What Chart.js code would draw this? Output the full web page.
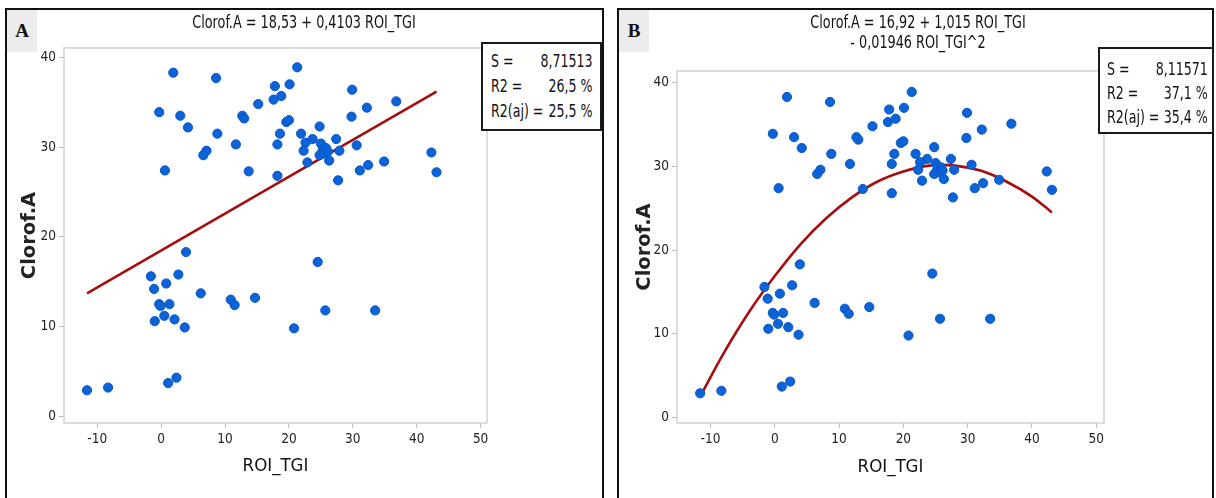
<!DOCTYPE html>
<html>
<head>
<meta charset="utf-8">
<script src="https://cdn.jsdelivr.net/npm/chart.js@4.4.1/dist/chart.umd.min.js"></script>
<style>
  body { margin: 0; width: 1216px; height: 498px; background: #fff; position: relative; overflow: hidden;
         font-family: 'DejaVu Sans Condensed', 'Liberation Sans Narrow', sans-serif; color: #111; }
  .panel { position: absolute; top: 8px; height: 500px; border: 2px solid #111; box-sizing: border-box; }
  #panelA { left: 5px; width: 599px; }
  #panelB { left: 617px; width: 597px; }
  .tag { position: absolute; left: 0; top: 0; width: 30px; height: 42px; background: #ececec;
         font: bold 19px 'Liberation Serif', 'DejaVu Serif', serif; display: flex; align-items: center; justify-content: center; }
  canvas { position: absolute; top: 0; }
  .title { position: absolute; width: 400px; font-size: 18.5px; text-align: center; line-height: 20px; white-space: nowrap;
           transform: scaleX(0.77); transform-origin: center top; z-index: 2; }
  .stats { position: absolute; border: 2px solid #1a1a1a; background: #fff; box-sizing: border-box; z-index: 3; }
  .stats .body { transform: scaleX(0.8); transform-origin: left top; font-size: 17.5px; }
  .stats .body div { display: flex; justify-content: space-between; white-space: nowrap; }
</style>
</head>
<body>
<canvas id="chartA" width="604" height="498" style="left:0"></canvas>
<canvas id="chartB" width="604" height="498" style="left:612px"></canvas>

<div class="panel" id="panelA"><div class="tag">A</div></div>
<div class="panel" id="panelB"><div class="tag">B</div></div>

<div class="title" style="left:104px; top:12px;">Clorof.A = 18,53 + 0,4103 ROI_TGI</div>
<div class="title" style="left:718px; top:12px;">Clorof.A = 16,92 + 1,015 ROI_TGI<br>- 0,01946 ROI_TGI^2</div>

<div class="stats" style="left:481px; top:42px; width:121px; height:89px;">
  <div class="body" style="width:127px; margin:5px 0 0 8px;">
    <div style="height:25px; line-height:25px;"><span>S =</span><span>8,71513</span></div>
    <div style="height:25px; line-height:25px;"><span>R2 =</span><span>26,5 %</span></div>
    <div style="height:25px; line-height:25px;"><span>R2(aj) =</span><span>25,5 %</span></div>
  </div>
</div>
<div class="stats" style="left:1098px; top:47px; width:116px; height:87px;">
  <div class="body" style="width:126px; margin:8px 0 0 7px;">
    <div style="height:24px; line-height:24px;"><span>S =</span><span>8,11571</span></div>
    <div style="height:24px; line-height:24px;"><span>R2 =</span><span>37,1 %</span></div>
    <div style="height:24px; line-height:24px;"><span>R2(aj) =</span><span>35,4 %</span></div>
  </div>
</div>

<script>
// observed data (ROI_TGI vs Clorof.A), same sample in both panels
const roiTgi = [
  1.9, 8.6, 17.8, 20.1, 17.6, 18.8, 15.2, -0.3, 3.0, 12.7,
  13.0, 4.2, 19.6, 20.0, 8.8, 18.6, 11.7, 18.2, 7.1, 6.6,
  0.6, 13.7, 18.2, 21.3, 29.9, 32.2, 36.8, 29.8, 24.8, 21.9,
  23.7, 22.6, 27.4, 22.3, 25.0, 25.3, 25.8, 24.8, 25.5, 26.1,
  27.9, 30.6, 22.9, 26.3, 31.1, 32.4, 34.9, 42.3, 43.1, 27.7,
  3.9, -1.6, 2.7, -1.1, 0.8, 6.2, 10.9, 11.5, 14.7, -0.3,
  -0.1, 1.3, 0.5, -1.0, 2.1, 3.7, -11.6, -8.3, 1.1, 2.4,
  24.5, 25.7, 33.5, 20.8
];
const clorofA = [
  38.3, 37.7, 36.8, 37.0, 35.3, 35.7, 34.8, 33.9, 33.5, 33.5,
  33.2, 32.2, 32.8, 33.0, 31.5, 31.5, 30.3, 30.3, 29.6, 29.1,
  27.4, 27.3, 26.8, 38.9, 36.4, 34.4, 35.1, 33.4, 32.3, 31.5,
  30.9, 30.5, 30.9, 29.6, 30.4, 29.7, 29.9, 29.1, 29.3, 29.5,
  29.6, 30.2, 28.3, 28.5, 27.4, 28.0, 28.4, 29.4, 27.2, 26.3,
  18.3, 15.6, 15.8, 14.2, 14.8, 13.7, 13.0, 12.4, 13.2, 12.5,
  12.3, 12.5, 11.2, 10.6, 10.8, 9.9, 2.9, 3.2, 3.7, 4.3,
  17.2, 11.8, 11.8, 9.8
];

// fitted line, panel A (end points)
const linFitX = [-11.6, 43.1];
const linFitY = [13.7, 36.2];

// fitted quadratic curve, panel B
const quadFitX = [-11.6, -8, -4, 0, 4, 8, 12, 16, 20, 24, 28, 32, 36, 40, 43.1];
const quadFitY = [2.5, 7.6, 12.6, 16.9, 20.7, 23.8, 26.3, 28.2, 29.4, 30.1, 30.1, 29.5, 28.2, 26.4, 24.5];

const xTicks = [-10, 0, 10, 20, 30, 40, 50];
const yTicks = [0, 10, 20, 30, 40];

const narrow = "'DejaVu Sans Condensed', 'Liberation Sans Narrow', sans-serif";

const toPoints = (xs, ys) => xs.map((x, i) => ({ x: x, y: ys[i] }));

// light grey frame round the data region
const framePlugin = {
  id: 'frame',
  beforeDatasetsDraw(chart) {
    const a = chart.chartArea;
    const ctx = chart.ctx;
    ctx.save();
    ctx.strokeStyle = '#d2d2d2';
    ctx.lineWidth = 1.5;
    ctx.strokeRect(a.left, a.top, a.right - a.left, a.bottom - a.top);
    ctx.restore();
  }
};

function makeChart(canvasId, fitX, fitY, cfg) {
  const ctx = document.getElementById(canvasId).getContext('2d');
  return new Chart(ctx, {
    type: 'scatter',
    data: {
      datasets: [
        {
          data: toPoints(roiTgi, clorofA),
          backgroundColor: '#0a63d8',
          borderColor: '#0957c4',
          borderWidth: 1,
          pointRadius: 4.6,
          order: 0
        },
        {
          type: 'line',
          data: toPoints(fitX, fitY),
          borderColor: '#a30f0f',
          borderWidth: 2.6,
          pointRadius: 0,
          fill: false,
          tension: 0.3,
          order: 1
        }
      ]
    },
    options: {
      responsive: false,
      devicePixelRatio: 1,
      animation: false,
      layout: { padding: cfg.padding },
      plugins: { legend: { display: false }, tooltip: { enabled: false } },
      scales: {
        x: {
          type: 'linear',
          min: cfg.xMin,
          max: cfg.xMax,
          afterBuildTicks: s => { s.ticks = xTicks.map(v => ({ value: v })); },
          afterFit: s => { s.height = cfg.xHeight; },
          border: { display: false },
          grid: { drawOnChartArea: false, drawTicks: true, tickLength: 5, color: '#b8b8b8', lineWidth: 1 },
          ticks: { padding: 3, color: '#222', font: { family: narrow, size: 13.5 } },
          title: {
            display: true, text: 'ROI_TGI', color: '#111',
            font: { family: narrow, size: 18.5 }, padding: { top: 0, bottom: cfg.xTitlePad }
          }
        },
        y: {
          type: 'linear',
          min: cfg.yMin,
          max: cfg.yMax,
          afterBuildTicks: s => { s.ticks = yTicks.map(v => ({ value: v })); },
          afterFit: s => { s.width = cfg.yWidth; },
          border: { display: false },
          grid: { drawOnChartArea: false, drawTicks: true, tickLength: 5, color: '#b8b8b8', lineWidth: 1 },
          ticks: { padding: 3, color: '#222', font: { family: narrow, size: 13.5 } },
          title: {
            display: true, text: 'Clorof.A', color: '#222',
            font: { family: "'DejaVu Sans', sans-serif", size: 19.5, weight: 'bold' },
            padding: { top: cfg.yTitlePad, bottom: 0 }
          }
        }
      }
    },
    plugins: [framePlugin]
  });
}

makeChart('chartA', linFitX, linFitY, {
  padding: { left: 0, top: 48, right: 117, bottom: 0 },
  xMin: -15.2, xMax: 51.0, yMin: -0.75, yMax: 41.05,
  xHeight: 75, yWidth: 64, xTitlePad: 21, yTitlePad: 18
});

makeChart('chartB', quadFitX, quadFitY, {
  padding: { left: 0, top: 71, right: 112, bottom: 0 },
  xMin: -15.2, xMax: 51.2, yMin: -0.65, yMax: 41.4,
  xHeight: 75, yWidth: 65, xTitlePad: 20, yTitlePad: 21
});
</script>
</body>
</html>
